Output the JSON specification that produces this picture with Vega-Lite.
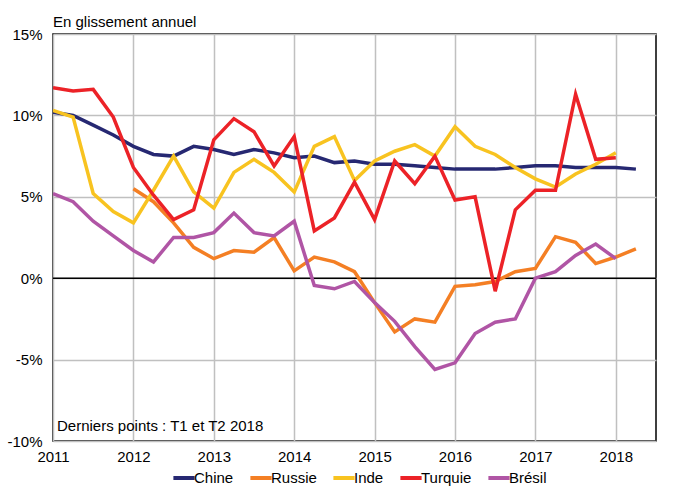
{
  "$schema": "https://vega.github.io/schema/vega-lite/v6.json",
  "width": 603,
  "height": 407,
  "autosize": {"type": "none"},
  "padding": {"left": 53, "top": 34, "right": 18, "bottom": 46},
  "background": "white",
  "config": {
    "view": {"stroke": "black", "strokeWidth": 1.5},
    "font": "Liberation Sans",
    "axis": {"labelFont": "Liberation Sans", "labelFontSize": 15, "labelColor": "black", "gridColor": "#C0C0C0", "gridWidth": 1.5, "domain": false, "ticks": false, "title": null},
    "legend": {"labelFont": "Liberation Sans", "labelFontSize": 15, "labelColor": "black"}
  },
  "title": {"text": "En glissement annuel", "anchor": "start", "frame": "group", "fontSize": 15, "fontWeight": "normal", "font": "Liberation Sans", "offset": -3, "color": "black"},
  "datasets": {
    "series": [
      {"t": 2011.0, "pays": "Chine", "v": 10.2}, {"t": 2011.25, "pays": "Chine", "v": 10.0}, {"t": 2011.5, "pays": "Chine", "v": 9.4}, {"t": 2011.75, "pays": "Chine", "v": 8.8},
      {"t": 2012.0, "pays": "Chine", "v": 8.1}, {"t": 2012.25, "pays": "Chine", "v": 7.6}, {"t": 2012.5, "pays": "Chine", "v": 7.5}, {"t": 2012.75, "pays": "Chine", "v": 8.1},
      {"t": 2013.0, "pays": "Chine", "v": 7.9}, {"t": 2013.25, "pays": "Chine", "v": 7.6}, {"t": 2013.5, "pays": "Chine", "v": 7.9}, {"t": 2013.75, "pays": "Chine", "v": 7.7},
      {"t": 2014.0, "pays": "Chine", "v": 7.4}, {"t": 2014.25, "pays": "Chine", "v": 7.5}, {"t": 2014.5, "pays": "Chine", "v": 7.1}, {"t": 2014.75, "pays": "Chine", "v": 7.2},
      {"t": 2015.0, "pays": "Chine", "v": 7.0}, {"t": 2015.25, "pays": "Chine", "v": 7.0}, {"t": 2015.5, "pays": "Chine", "v": 6.9}, {"t": 2015.75, "pays": "Chine", "v": 6.8},
      {"t": 2016.0, "pays": "Chine", "v": 6.7}, {"t": 2016.25, "pays": "Chine", "v": 6.7}, {"t": 2016.5, "pays": "Chine", "v": 6.7}, {"t": 2016.75, "pays": "Chine", "v": 6.8},
      {"t": 2017.0, "pays": "Chine", "v": 6.9}, {"t": 2017.25, "pays": "Chine", "v": 6.9}, {"t": 2017.5, "pays": "Chine", "v": 6.8}, {"t": 2017.75, "pays": "Chine", "v": 6.8},
      {"t": 2018.0, "pays": "Chine", "v": 6.8}, {"t": 2018.25, "pays": "Chine", "v": 6.7},

      {"t": 2012.0, "pays": "Russie", "v": 5.5}, {"t": 2012.25, "pays": "Russie", "v": 4.7}, {"t": 2012.5, "pays": "Russie", "v": 3.4}, {"t": 2012.75, "pays": "Russie", "v": 1.9},
      {"t": 2013.0, "pays": "Russie", "v": 1.2}, {"t": 2013.25, "pays": "Russie", "v": 1.7}, {"t": 2013.5, "pays": "Russie", "v": 1.6}, {"t": 2013.75, "pays": "Russie", "v": 2.5},
      {"t": 2014.0, "pays": "Russie", "v": 0.45}, {"t": 2014.25, "pays": "Russie", "v": 1.3}, {"t": 2014.5, "pays": "Russie", "v": 1.0}, {"t": 2014.75, "pays": "Russie", "v": 0.4},
      {"t": 2015.0, "pays": "Russie", "v": -1.5}, {"t": 2015.25, "pays": "Russie", "v": -3.3}, {"t": 2015.5, "pays": "Russie", "v": -2.5}, {"t": 2015.75, "pays": "Russie", "v": -2.7},
      {"t": 2016.0, "pays": "Russie", "v": -0.5}, {"t": 2016.25, "pays": "Russie", "v": -0.4}, {"t": 2016.5, "pays": "Russie", "v": -0.2}, {"t": 2016.75, "pays": "Russie", "v": 0.4},
      {"t": 2017.0, "pays": "Russie", "v": 0.6}, {"t": 2017.25, "pays": "Russie", "v": 2.55}, {"t": 2017.5, "pays": "Russie", "v": 2.2}, {"t": 2017.75, "pays": "Russie", "v": 0.9},
      {"t": 2018.0, "pays": "Russie", "v": 1.3}, {"t": 2018.25, "pays": "Russie", "v": 1.8},

      {"t": 2011.0, "pays": "Inde", "v": 10.3}, {"t": 2011.25, "pays": "Inde", "v": 9.9}, {"t": 2011.5, "pays": "Inde", "v": 5.2}, {"t": 2011.75, "pays": "Inde", "v": 4.1},
      {"t": 2012.0, "pays": "Inde", "v": 3.4}, {"t": 2012.25, "pays": "Inde", "v": 5.4}, {"t": 2012.5, "pays": "Inde", "v": 7.5}, {"t": 2012.75, "pays": "Inde", "v": 5.3},
      {"t": 2013.0, "pays": "Inde", "v": 4.3}, {"t": 2013.25, "pays": "Inde", "v": 6.5}, {"t": 2013.5, "pays": "Inde", "v": 7.3}, {"t": 2013.75, "pays": "Inde", "v": 6.5},
      {"t": 2014.0, "pays": "Inde", "v": 5.3}, {"t": 2014.25, "pays": "Inde", "v": 8.1}, {"t": 2014.5, "pays": "Inde", "v": 8.7}, {"t": 2014.75, "pays": "Inde", "v": 6.0},
      {"t": 2015.0, "pays": "Inde", "v": 7.2}, {"t": 2015.25, "pays": "Inde", "v": 7.8}, {"t": 2015.5, "pays": "Inde", "v": 8.2}, {"t": 2015.75, "pays": "Inde", "v": 7.5},
      {"t": 2016.0, "pays": "Inde", "v": 9.3}, {"t": 2016.25, "pays": "Inde", "v": 8.1}, {"t": 2016.5, "pays": "Inde", "v": 7.6}, {"t": 2016.75, "pays": "Inde", "v": 6.8},
      {"t": 2017.0, "pays": "Inde", "v": 6.1}, {"t": 2017.25, "pays": "Inde", "v": 5.6}, {"t": 2017.5, "pays": "Inde", "v": 6.4}, {"t": 2017.75, "pays": "Inde", "v": 7.0},
      {"t": 2018.0, "pays": "Inde", "v": 7.7},

      {"t": 2011.0, "pays": "Turquie", "v": 11.7}, {"t": 2011.25, "pays": "Turquie", "v": 11.5}, {"t": 2011.5, "pays": "Turquie", "v": 11.6}, {"t": 2011.75, "pays": "Turquie", "v": 9.9},
      {"t": 2012.0, "pays": "Turquie", "v": 6.8}, {"t": 2012.25, "pays": "Turquie", "v": 5.1}, {"t": 2012.5, "pays": "Turquie", "v": 3.6}, {"t": 2012.75, "pays": "Turquie", "v": 4.2},
      {"t": 2013.0, "pays": "Turquie", "v": 8.5}, {"t": 2013.25, "pays": "Turquie", "v": 9.8}, {"t": 2013.5, "pays": "Turquie", "v": 9.0}, {"t": 2013.75, "pays": "Turquie", "v": 6.9},
      {"t": 2014.0, "pays": "Turquie", "v": 8.7}, {"t": 2014.25, "pays": "Turquie", "v": 2.9}, {"t": 2014.5, "pays": "Turquie", "v": 3.7}, {"t": 2014.75, "pays": "Turquie", "v": 5.9},
      {"t": 2015.0, "pays": "Turquie", "v": 3.6}, {"t": 2015.25, "pays": "Turquie", "v": 7.2}, {"t": 2015.5, "pays": "Turquie", "v": 5.8}, {"t": 2015.75, "pays": "Turquie", "v": 7.5},
      {"t": 2016.0, "pays": "Turquie", "v": 4.8}, {"t": 2016.25, "pays": "Turquie", "v": 5.0}, {"t": 2016.5, "pays": "Turquie", "v": -0.8}, {"t": 2016.75, "pays": "Turquie", "v": 4.2},
      {"t": 2017.0, "pays": "Turquie", "v": 5.4}, {"t": 2017.25, "pays": "Turquie", "v": 5.4}, {"t": 2017.5, "pays": "Turquie", "v": 11.3}, {"t": 2017.75, "pays": "Turquie", "v": 7.3},
      {"t": 2018.0, "pays": "Turquie", "v": 7.4},

      {"t": 2011.0, "pays": "Brésil", "v": 5.2}, {"t": 2011.25, "pays": "Brésil", "v": 4.7}, {"t": 2011.5, "pays": "Brésil", "v": 3.5}, {"t": 2011.75, "pays": "Brésil", "v": 2.6},
      {"t": 2012.0, "pays": "Brésil", "v": 1.7}, {"t": 2012.25, "pays": "Brésil", "v": 1.0}, {"t": 2012.5, "pays": "Brésil", "v": 2.5}, {"t": 2012.75, "pays": "Brésil", "v": 2.5},
      {"t": 2013.0, "pays": "Brésil", "v": 2.8}, {"t": 2013.25, "pays": "Brésil", "v": 4.0}, {"t": 2013.5, "pays": "Brésil", "v": 2.8}, {"t": 2013.75, "pays": "Brésil", "v": 2.6},
      {"t": 2014.0, "pays": "Brésil", "v": 3.5}, {"t": 2014.25, "pays": "Brésil", "v": -0.45}, {"t": 2014.5, "pays": "Brésil", "v": -0.65}, {"t": 2014.75, "pays": "Brésil", "v": -0.2},
      {"t": 2015.0, "pays": "Brésil", "v": -1.5}, {"t": 2015.25, "pays": "Brésil", "v": -2.65}, {"t": 2015.5, "pays": "Brésil", "v": -4.2}, {"t": 2015.75, "pays": "Brésil", "v": -5.6},
      {"t": 2016.0, "pays": "Brésil", "v": -5.2}, {"t": 2016.25, "pays": "Brésil", "v": -3.4}, {"t": 2016.5, "pays": "Brésil", "v": -2.7}, {"t": 2016.75, "pays": "Brésil", "v": -2.5},
      {"t": 2017.0, "pays": "Brésil", "v": 0.0}, {"t": 2017.25, "pays": "Brésil", "v": 0.4}, {"t": 2017.5, "pays": "Brésil", "v": 1.4}, {"t": 2017.75, "pays": "Brésil", "v": 2.1},
      {"t": 2018.0, "pays": "Brésil", "v": 1.2}
    ]
  },
  "layer": [
    {
      "data": {"values": [{"zero": 0}]},
      "mark": {"type": "rule", "color": "black", "strokeWidth": 1.5},
      "encoding": {"y": {"field": "zero", "type": "quantitative", "scale": {"domain": [-10, 15]}}}
    },
    {
      "data": {"name": "series"},
      "mark": {"type": "line", "strokeWidth": 3.5, "strokeJoin": "miter", "clip": true},
      "encoding": {
        "x": {"field": "t", "type": "quantitative", "scale": {"domain": [2011, 2018.5], "nice": false, "zero": false},
              "axis": {"values": [2011, 2012, 2013, 2014, 2015, 2016, 2017, 2018], "format": "d", "labelPadding": 8, "labelFlush": false}},
        "y": {"field": "v", "type": "quantitative", "scale": {"domain": [-10, 15], "nice": false},
              "axis": {"values": [-10, -5, 0, 5, 10, 15], "labelExpr": "datum.value + '%'", "labelPadding": 11}},
        "color": {"field": "pays", "type": "nominal",
                  "scale": {"domain": ["Chine", "Russie", "Inde", "Turquie", "Brésil"], "range": ["#262872", "#F47F24", "#F8C320", "#EC2227", "#B055A5"]},
                  "legend": {"orient": "none", "legendX": 118, "legendY": 431, "direction": "horizontal", "title": null, "symbolType": "stroke", "symbolStrokeWidth": 4, "symbolSize": 450, "columnPadding": 8, "labelOffset": -3}},
        "order": {"field": "t", "type": "quantitative"}
      }
    },
    {
      "data": {"values": [{"t": 2011.05, "v": -9.1, "label": "Derniers points : T1 et T2 2018"}]},
      "mark": {"type": "text", "align": "left", "baseline": "middle", "fontSize": 15, "font": "Liberation Sans", "color": "black"},
      "encoding": {
        "x": {"field": "t", "type": "quantitative"},
        "y": {"field": "v", "type": "quantitative"},
        "text": {"field": "label"}
      }
    }
  ]
}
